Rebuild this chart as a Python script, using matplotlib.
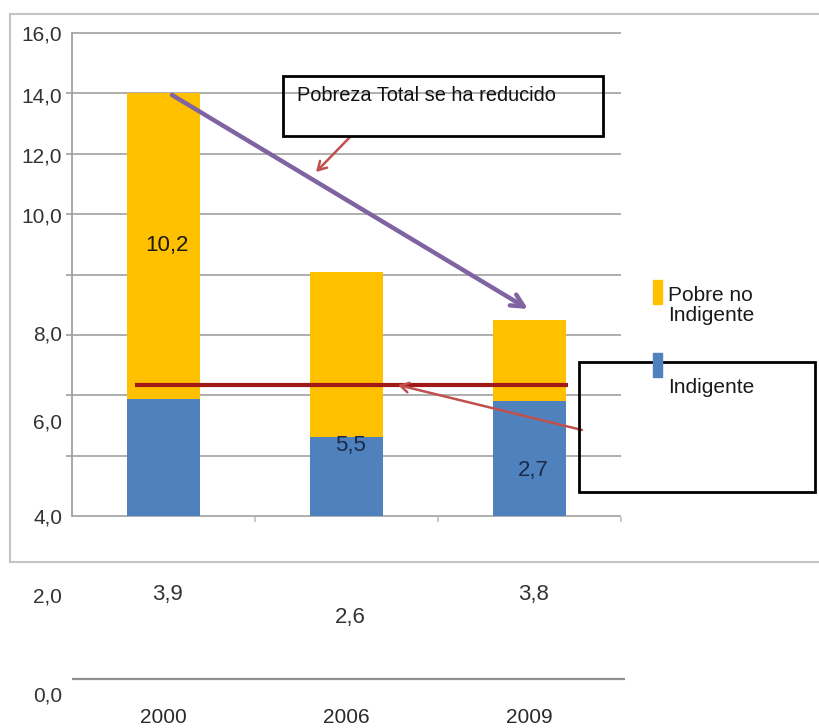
import matplotlib
matplotlib.use("Agg")
import matplotlib.pyplot as plt
from matplotlib.patches import Rectangle
from matplotlib.lines import Line2D

plt.rcParams['font.family'] = ['Liberation Sans', 'DejaVu Sans']

# ---- data (chart units as drawn) ----
years = ["2000", "2006", "2009"]
base = 4.0
indigente = [2.90, 1.96, 2.86]
pobre_no_indigente = [7.61, 4.10, 2.01]
label_texts = ["10,2", "5,5", "2,7", "3,9", "2,6", "3,8"]
label_cats = [0, 1, 2, 0, 1, 2]
label_levels = [10.73, 5.76, 5.14, 2.04, 1.47, 2.04]
ytick_labels = ["16,0", "14,0", "12,0", "10,0", "8,0", "6,0", "4,0", "2,0", "0,0"]
ytick_levels = [16.0, 14.47, 12.97, 11.48, 8.55, 6.35, 4.0, 2.04, -0.41]
grid_levels = [4.0, 5.5, 7.0, 8.5, 10.0, 11.5, 13.0, 14.5, 16.0]
ref_level = 7.25

W, H = 819, 728
fig = plt.figure(figsize=(W / 100, H / 100), dpi=100)

def fx(x):
    return x / W

def fy(y):
    return 1 - y / H

ax = fig.add_axes([fx(72), fy(700), (621 - 72) / W, (700 - 33) / H])
ax.set_xlim(-0.5, 2.5)
ax.set_ylim(-0.57, 16.0)

yellow = '#FFC000'
blue = '#4F81BD'

ax.hlines(grid_levels, -0.5, 2.5, color='#a8a8a8', lw=1.3, zorder=1, clip_on=False)

x = list(range(len(years)))
ax.bar(x, indigente, bottom=base, width=0.395, color=blue, zorder=2)
tops = [base + v for v in indigente]
ax.bar(x, pobre_no_indigente, bottom=tops, width=0.395, color=yellow, zorder=2)

label_colors = ['#1a1a1a', '#1c2a4a', '#1c2a4a', '#333333', '#333333', '#333333']
for t, c, lv, col in zip(label_texts, label_cats, label_levels, label_colors):
    ax.text(c + 0.02, lv, t, ha='center', va='center', fontsize=16, color=col, zorder=5)

# reference line
ax.hlines(ref_level, -0.156, 2.21, color='#A01818', lw=3.0, zorder=4)

# small marks at category boundaries
ax.vlines([0.5, 1.5, 2.5], 3.85, 3.98, color='#c0c0c0', lw=1.2, zorder=1, clip_on=False)

# bottom baseline
ax.hlines(-0.05, -0.5, 2.52, color='#909090', lw=1.6, clip_on=False, zorder=1)

for s in ['top', 'right', 'bottom']:
    ax.spines[s].set_visible(False)
ax.spines['left'].set_bounds(4, 16)
ax.spines['left'].set_color('#a0a0a0')
ax.spines['left'].set_linewidth(1.3)

ax.set_yticks(ytick_levels)
ax.set_yticklabels(ytick_labels)
ax.set_yticks(grid_levels, minor=True)
ax.tick_params(axis='y', which='major', length=0, pad=7, labelsize=15, labelcolor='#333333')
ax.tick_params(axis='y', which='minor', length=4.5, width=1.2, color='#a0a0a0', direction='out')

ax.set_xticks(x)
ax.set_xticklabels(years)
ax.tick_params(axis='x', length=0, pad=6, labelsize=15, labelcolor='#2a2a2a')

# outer frame (open to the right)
fc = '#c4c4c4'
fig.add_artist(Line2D([fx(10), fx(819)], [fy(14), fy(14)], color=fc, lw=1.5))
fig.add_artist(Line2D([fx(10), fx(10)], [fy(14), fy(562)], color=fc, lw=1.5))
fig.add_artist(Line2D([fx(10), fx(819)], [fy(562), fy(562)], color=fc, lw=1.5))

# annotation boxes
fig.add_artist(Rectangle((fx(283), fy(136)), (603 - 283) / W, (136 - 76) / H,
                         fill=False, edgecolor='black', lw=2.0, zorder=6))
fig.text(fx(297), fy(101), "Pobreza Total se ha reducido", fontsize=14.4, color='#111111',
         ha='left', va='baseline', zorder=7)
fig.add_artist(Rectangle((fx(579), fy(492)), (815 - 579) / W, (492 - 362) / H,
                         fill=False, edgecolor='black', lw=2.0, zorder=6))

# arrows
def fp(xp, yp):
    return (xp, H - yp)

ax.annotate("", xy=fp(528, 309), xytext=fp(172, 95), xycoords='figure pixels',
            textcoords='figure pixels',
            arrowprops=dict(arrowstyle='->,head_length=0.9,head_width=0.45', lw=3.2,
                            color='#8064A2', shrinkA=0, shrinkB=0), zorder=8)
ax.annotate("", xy=fp(316, 172), xytext=fp(350, 137), xycoords='figure pixels',
            textcoords='figure pixels',
            arrowprops=dict(arrowstyle='->,head_length=0.6,head_width=0.35', lw=1.8,
                            color='#C0504D', shrinkA=0, shrinkB=0), zorder=8)
ax.annotate("", xy=fp(398, 385), xytext=fp(582, 430), xycoords='figure pixels',
            textcoords='figure pixels',
            arrowprops=dict(arrowstyle='->,head_length=0.6,head_width=0.35', lw=1.8,
                            color='#C0504D', shrinkA=0, shrinkB=0), zorder=8)

# legend
fig.add_artist(Rectangle((fx(653), fy(304)), 9 / W, 24 / H, color=yellow, zorder=9))
fig.text(fx(668), fy(301), "Pobre no", fontsize=15, color='#1a1a1a', va='baseline', zorder=9)
fig.text(fx(668), fy(321), "Indigente", fontsize=15, color='#1a1a1a', va='baseline', zorder=9)
fig.add_artist(Rectangle((fx(653), fy(377)), 9 / W, 24 / H, color=blue, zorder=9))
fig.text(fx(668), fy(393), "Indigente", fontsize=15, color='#1a1a1a', va='baseline', zorder=9)

fig.savefig("out.png", dpi=100, facecolor='white')
